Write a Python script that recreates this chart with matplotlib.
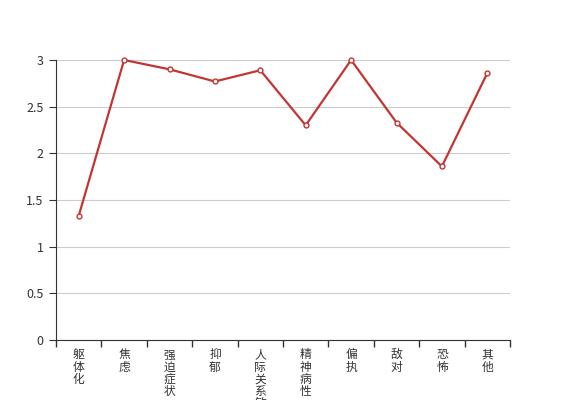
import matplotlib
matplotlib.use("Agg")
import matplotlib.pyplot as plt
from matplotlib.ticker import FixedLocator

plt.rcParams['font.family'] = ['Noto Sans CJK SC', 'DejaVu Sans']

categories = ["躯体化", "焦虑", "强迫症状", "抑郁", "人际关系敏感", "精神病性", "偏执", "敌对", "恐怖", "其他"]
values = [1.33, 3.0, 2.90, 2.77, 2.89, 2.30, 3.0, 2.33, 1.86, 2.86]
y_ticks = [0, 0.5, 1, 1.5, 2, 2.5, 3]
y_tick_labels = ["0", "0.5", "1", "1.5", "2", "2.5", "3"]

fig = plt.figure(figsize=(5.67, 4.0), dpi=100)
ax = fig.add_axes([56/567, 60/400, (510-56)/567, (340-60)/400])

x = list(range(len(categories)))
ax.plot(x, values, color='#c23531', linewidth=1.6, marker='o', markersize=3.5,
        markerfacecolor='white', markeredgecolor='#c23531', markeredgewidth=1, zorder=3, clip_on=False)

ax.set_xlim(-0.5, len(categories) - 0.5)
ax.set_ylim(0, 3)
ax.set_yticks(y_ticks)
ax.set_yticklabels(y_tick_labels)
ax.yaxis.grid(True, color='#cccccc', linewidth=0.8)
ax.set_axisbelow(True)

ax.set_xticks(x)
ax.set_xticklabels(["\n".join(c) for c in categories], va='top', linespacing=0.92)
ax.xaxis.set_minor_locator(FixedLocator([i - 0.5 for i in range(len(categories) + 1)]))
ax.tick_params(axis='x', which='major', length=0, pad=6, labelsize=8.5, labelcolor='#333333')
ax.tick_params(axis='x', which='minor', length=5, color='#333333', width=1)
ax.tick_params(axis='y', length=5, color='#333333', labelsize=9, labelcolor='#333333', pad=4)

for s in ['top', 'right']:
    ax.spines[s].set_visible(False)
ax.spines['left'].set_color('#333333')
ax.spines['bottom'].set_color('#333333')

fig.savefig("out.png", dpi=100)
